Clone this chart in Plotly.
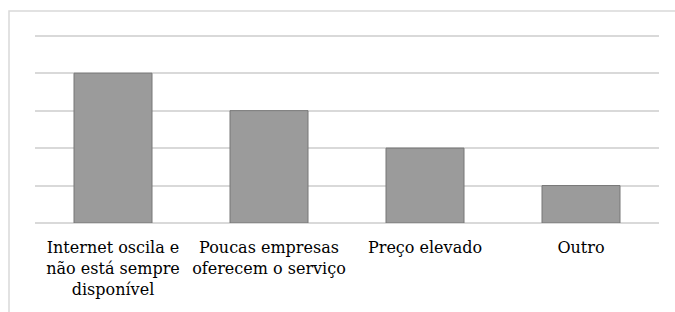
import plotly.graph_objects as go

categories = ["Internet oscila e<br>não está sempre<br>disponível",
              "Poucas empresas<br>oferecem o serviço",
              "Preço elevado",
              "Outro"]
values = [4, 3, 2, 1]

W, H = 675, 312
ml, mr, mt, mb = 35, 16, 32, 89
pw = W - ml - mr
ph = H - mt - mb

fig = go.Figure(go.Bar(
    x=categories, y=values,
    marker=dict(color="#9b9b9b", line=dict(color="#777777", width=1)),
))

def px_x(x):
    return (x - ml) / pw

def px_y(y):
    return (H - mb - y) / ph

fig.add_shape(type="rect", xref="paper", yref="paper",
              x0=px_x(9), x1=px_x(690), y0=px_y(11), y1=px_y(330),
              line=dict(color="#d9d9d9", width=1.5), layer="below")

serif = "DejaVu Serif, Liberation Serif, serif"
fig.update_layout(
    width=W, height=H,
    margin=dict(l=ml, r=mr, t=mt, b=mb),
    paper_bgcolor="white", plot_bgcolor="white",
    bargap=0.5, showlegend=False,
    font=dict(family=serif, size=16, color="#000000"),
)
fig.update_xaxes(showline=False, ticks="", tickfont=dict(family=serif, size=16, color="#000000"),
                 showgrid=False, ticklabelstandoff=13)
fig.update_yaxes(range=[0, 5.1], dtick=1, showticklabels=False, showgrid=True,
                 gridcolor="#d9d9d9", gridwidth=1.5, zeroline=True,
                 zerolinecolor="#d9d9d9", zerolinewidth=1.5, showline=False)

fig.write_html("out.html", config={"displayModeBar": False},
               post_script="document.body.style.margin='0';document.body.style.overflow='hidden';")
